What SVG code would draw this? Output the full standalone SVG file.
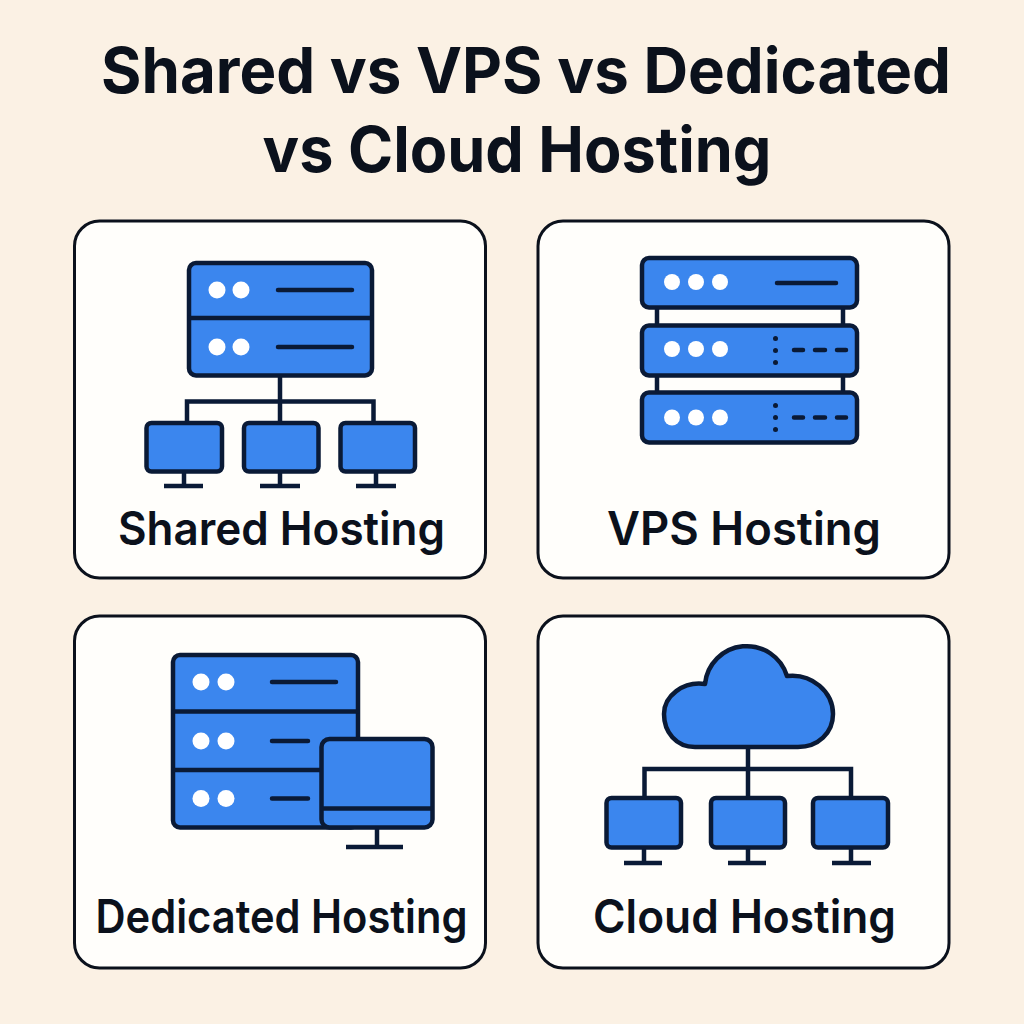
<svg xmlns="http://www.w3.org/2000/svg" width="1024" height="1024" viewBox="0 0 1024 1024">
<style>
text{font-family:"Inter","Liberation Sans",sans-serif;font-weight:600;fill:#0b111c;text-anchor:middle}
.title{font-size:63px;font-weight:700}
.lab{font-size:46.500px}
.card{fill:#fffefb;stroke:#0b111c;stroke-width:3}
.b{fill:#3b86ee;stroke:#0a1a36;stroke-width:4.500;stroke-linejoin:round}
.l{fill:none;stroke:#0a1a36;stroke-width:4.500}
.t{fill:none;stroke:#0a1a36;stroke-width:4.500;stroke-linecap:round}
.w{fill:#fff}
.d{fill:#0a1a36}
</style>
<rect width="1024" height="1024" fill="#fbf1e4"/>
<g id="title">
<text class="title" x="526" y="92.500" textLength="850" lengthAdjust="spacingAndGlyphs">Shared vs VPS vs Dedicated</text>
<text class="title" x="517" y="172" textLength="509" lengthAdjust="spacingAndGlyphs">vs Cloud Hosting</text>
</g>
<g id="cards">
<rect class="card" x="74.500" y="221" width="411" height="357" rx="25"/>
<rect class="card" x="538" y="221" width="411" height="357" rx="25"/>
<rect class="card" x="74.500" y="616" width="411" height="352" rx="25"/>
<rect class="card" x="538" y="616" width="411" height="352" rx="25"/>
</g>
<g id="connectors">
<path class="l" d="M280 376V422M187 421V401.500H373.500V421"/>
<path class="l" d="M184 472V486M280 472V486M376 472V486"/>
<path class="l" d="M657 308V324M843 308V324M657 376V391M843 376V391"/>
<path class="l" d="M377 828V847"/>
<path class="l" d="M748 748V797M644.500 797V769H851V797"/>
<path class="l" d="M644 848V863M748 848V863M851 848V863"/>
</g>
<g id="shared-hosting">
<rect class="b" x="189" y="263" width="183" height="112.500" rx="7"/>
<path class="l" d="M188 318H373"/>
<circle class="w" cx="217" cy="290" r="8.500"/><circle class="w" cx="241" cy="290" r="8.500"/>
<circle class="w" cx="217" cy="347" r="8.500"/><circle class="w" cx="241" cy="347" r="8.500"/>
<path class="t" d="M278 290H352M278 347H352"/>
<rect class="b" x="146.500" y="423" width="75.500" height="48.500" rx="5"/>
<rect class="b" x="244" y="423" width="74.500" height="48.500" rx="5"/>
<rect class="b" x="340.500" y="423" width="74.500" height="48.500" rx="5"/>
<path class="l" d="M164 486H203M260 486H300M356 486H396"/>
<text class="lab" x="281.500" y="545" textLength="327" lengthAdjust="spacingAndGlyphs">Shared Hosting</text>
</g>
<g id="vps-hosting">
<rect class="b" x="642" y="258" width="215" height="49.500" rx="7"/>
<rect class="b" x="642" y="325.500" width="215" height="50" rx="7"/>
<rect class="b" x="642" y="392.500" width="215" height="50" rx="7"/>
<circle class="w" cx="672" cy="282" r="8"/><circle class="w" cx="696" cy="282" r="8"/><circle class="w" cx="720" cy="282" r="8"/>
<circle class="w" cx="672" cy="349" r="8"/><circle class="w" cx="696" cy="349" r="8"/><circle class="w" cx="720" cy="349" r="8"/>
<circle class="w" cx="672" cy="417.500" r="8"/><circle class="w" cx="696" cy="417.500" r="8"/><circle class="w" cx="720" cy="417.500" r="8"/>
<path class="t" d="M777 283H836"/>
<circle class="d" cx="775.500" cy="338.500" r="2.500"/><circle class="d" cx="775.500" cy="350.500" r="2.500"/><circle class="d" cx="775.500" cy="362.500" r="2.500"/>
<circle class="d" cx="775.500" cy="405.500" r="2.500"/><circle class="d" cx="775.500" cy="417.500" r="2.500"/><circle class="d" cx="775.500" cy="429.500" r="2.500"/>
<path class="t" d="M794 350H803M815 350H825M837 350H846M794 417.500H803M815 417.500H825M837 417.500H846"/>
<text class="lab" x="744" y="545" textLength="274" lengthAdjust="spacingAndGlyphs">VPS Hosting</text>
</g>
<g id="dedicated-hosting">
<rect class="b" x="173" y="655" width="185" height="172.500" rx="7"/>
<path class="l" d="M172 711.500H359M172 770H322"/>
<circle class="w" cx="201" cy="682" r="8.500"/><circle class="w" cx="226" cy="682" r="8.500"/>
<circle class="w" cx="201" cy="741" r="8.500"/><circle class="w" cx="226" cy="741" r="8.500"/>
<circle class="w" cx="201" cy="798.500" r="8.500"/><circle class="w" cx="226" cy="798.500" r="8.500"/>
<path class="t" d="M272 682H336M272 741H308M272 798.500H308"/>
<rect class="b" x="321.500" y="739" width="111" height="88.500" rx="8"/>
<path class="l" d="M321 808.500H433"/>
<path class="l" d="M346 847H403"/>
<text class="lab" x="281.500" y="933" textLength="372" lengthAdjust="spacingAndGlyphs">Dedicated Hosting</text>
</g>
<g id="cloud-hosting">
<path class="b" d="M695 747C676 747 664 732 664 714C664 696 683 681 705 684A42 42 0 0 1 787 676C812 673 833 692 833 714C833 733 818 747 798 747Z"/>
<rect class="b" x="606.500" y="798" width="74.500" height="49.500" rx="5"/>
<rect class="b" x="711" y="798" width="74" height="49.500" rx="5"/>
<rect class="b" x="813" y="798" width="75" height="49.500" rx="5"/>
<path class="l" d="M624 863H662M728 863H766M832 863H871"/>
<text class="lab" x="744.500" y="933" textLength="303" lengthAdjust="spacingAndGlyphs">Cloud Hosting</text>
</g>
</svg>
